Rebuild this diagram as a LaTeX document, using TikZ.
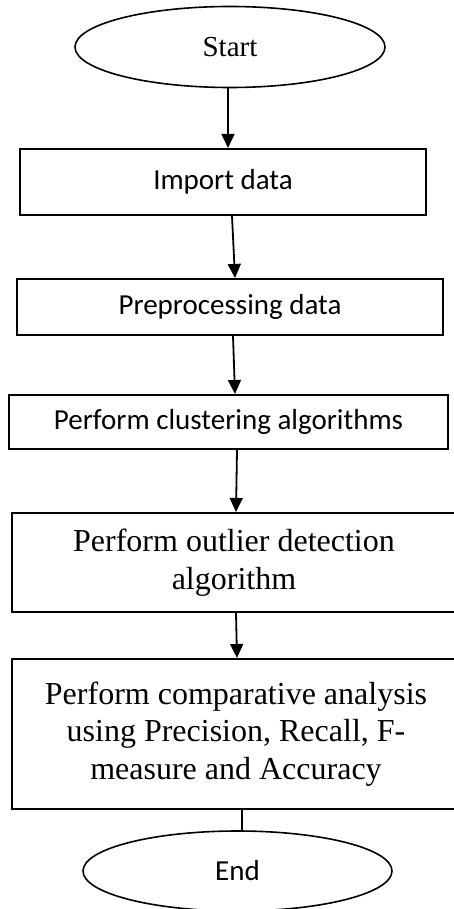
\documentclass[tikz,border=0pt]{standalone}
\usepackage{fontspec}
\setmainfont{Liberation Serif}
\newfontfamily\calfont{Carlito}
\usetikzlibrary{shapes.geometric,arrows.meta}

\begin{document}
\begin{tikzpicture}[x=1pt,y=-1pt,
  term/.style={draw,ellipse,line width=1.6pt,inner sep=0pt,minimum width=310pt,minimum height=81pt},
  stepbox/.style={draw,rectangle,line width=2.1pt,inner sep=0pt,align=center},
  sanslabel/.style={font=\calfont\fontsize{29}{35}\selectfont},
  seriflabel/.style={font=\fontsize{32}{37.5}\selectfont},
  flow/.style={-{Triangle[length=14pt,width=13pt]},line width=1.8pt}]
\clip (0,0) rectangle (454,909);
\node[term,font=\fontsize{29}{35}\selectfont] (start) at (230,47) {Start};
\node[stepbox,sanslabel,minimum width=406pt,minimum height=66pt] (import) at (223,182) {Import data};
\node[stepbox,sanslabel,minimum width=426pt,minimum height=56pt] (prep) at (230,307) {Preprocessing data};
\node[stepbox,sanslabel,minimum width=439pt,minimum height=54pt] (clust) at (228.5,422) {Perform clustering algorithms};
\node[stepbox,seriflabel,minimum width=444pt,minimum height=99pt] (outlier) at (234,562.5) {Perform outlier detection\\algorithm};
\node[stepbox,seriflabel,minimum width=448pt,minimum height=150pt] (compare) at (236,734) {Perform comparative analysis\\using Precision, Recall, F-\\measure and Accuracy};
\node[term,sanslabel,minimum width=309pt,minimum height=80pt] (end) at (237.5,871) {End};
% arrows between the steps
\draw[flow] ([xshift=-2pt]start.south) -- ([xshift=5pt]import.north);
\draw[flow] ([xshift=9pt]import.south) -- ([xshift=5pt]prep.north);
\draw[flow] ([xshift=3pt]prep.south) -- ([xshift=6.5pt]clust.north);
\draw[flow] ([xshift=8.5pt]clust.south) -- ([xshift=2pt]outlier.north);
\draw[flow] ([xshift=2pt]outlier.south) -- ([xshift=1pt]compare.north);
\draw[line width=1.8pt] ([xshift=6pt]compare.south) -- ([xshift=4.5pt]end.north);
\end{tikzpicture}
\end{document}
